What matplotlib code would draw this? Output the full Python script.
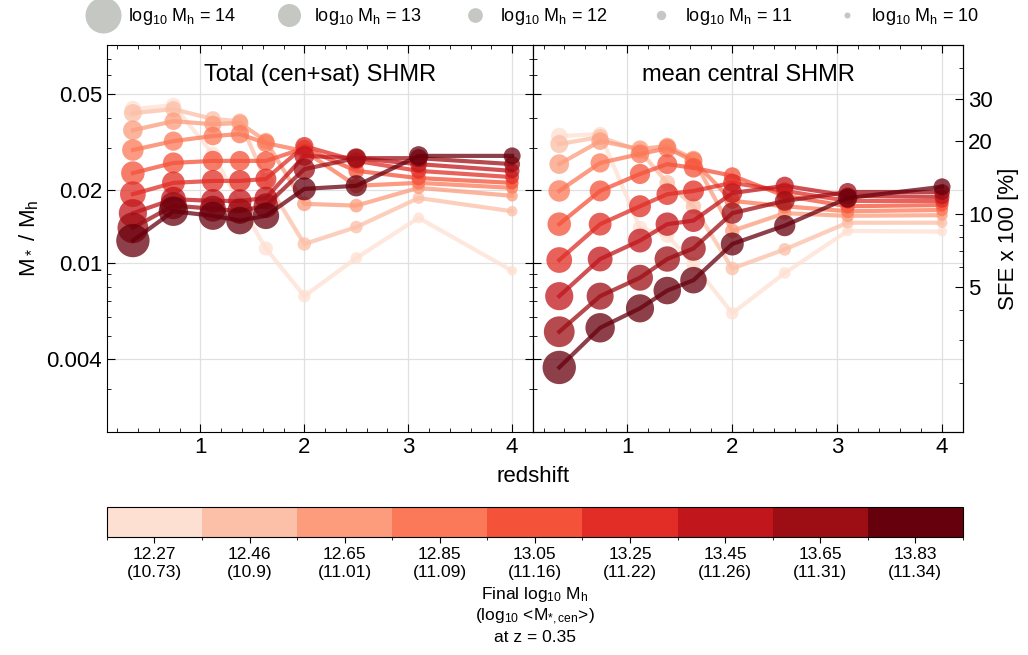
import numpy as np
import matplotlib
matplotlib.use('Agg')
import matplotlib.pyplot as plt
import matplotlib as mpl
from matplotlib.lines import Line2D
from matplotlib.colors import ListedColormap, BoundaryNorm
from matplotlib.ticker import FixedLocator, LogLocator, NullFormatter, FormatStrFormatter, MultipleLocator

plt.rcParams['font.family'] = ['Liberation Sans', 'DejaVu Sans']
plt.rcParams['mathtext.fontset'] = 'custom'
plt.rcParams['mathtext.rm'] = 'Liberation Sans'
plt.rcParams['mathtext.it'] = 'Liberation Sans:italic'
plt.rcParams['mathtext.bf'] = 'Liberation Sans:bold'

# ── data ──
redshift = [0.35, 0.74, 1.12, 1.38, 1.63, 2.0, 2.5, 3.1, 4.0]

final_logmh = ['12.27', '12.46', '12.65', '12.85', '13.05', '13.25', '13.45', '13.65', '13.83']
final_logms = ['10.73', '10.9', '11.01', '11.09', '11.16', '11.22', '11.26', '11.31', '11.34']

# total (cen+sat) M*/Mh, one row per final-mass bin (light -> dark)
shmr_total = np.array([
    [0.0434, 0.0451, 0.0283, 0.0176, 0.0115, 0.0073, 0.0105, 0.0154, 0.0093],
    [0.0418, 0.0434, 0.0395, 0.0387, 0.0219, 0.0120, 0.0141, 0.0186, 0.0164],
    [0.0355, 0.0387, 0.0376, 0.0380, 0.0320, 0.0176, 0.0173, 0.0205, 0.0190],
    [0.0294, 0.0320, 0.0336, 0.0342, 0.0314, 0.0291, 0.0209, 0.0215, 0.0205],
    [0.0236, 0.0260, 0.0265, 0.0265, 0.0265, 0.0299, 0.0241, 0.0225, 0.0215],
    [0.0193, 0.0215, 0.0219, 0.0219, 0.0223, 0.0305, 0.0265, 0.0241, 0.0227],
    [0.0161, 0.0184, 0.0181, 0.0181, 0.0186, 0.0278, 0.0272, 0.0257, 0.0241],
    [0.0140, 0.0173, 0.0168, 0.0164, 0.0173, 0.0245, 0.0272, 0.0272, 0.0257],
    [0.0124, 0.0164, 0.0157, 0.0150, 0.0157, 0.0203, 0.0209, 0.0278, 0.0278],
])

# mean central M*/Mh
shmr_cen = np.array([
    [0.0336, 0.0342, 0.0140, 0.0130, 0.0099, 0.0062, 0.0091, 0.0136, 0.0135],
    [0.0311, 0.0333, 0.0291, 0.0215, 0.0172, 0.0095, 0.0114, 0.0147, 0.0147],
    [0.0257, 0.0320, 0.0297, 0.0305, 0.0270, 0.0136, 0.0161, 0.0157, 0.0158],
    [0.0199, 0.0260, 0.0283, 0.0299, 0.0265, 0.0181, 0.0172, 0.0164, 0.0166],
    [0.0145, 0.0199, 0.0234, 0.0257, 0.0248, 0.0230, 0.0190, 0.0172, 0.0174],
    [0.0103, 0.0145, 0.0172, 0.0193, 0.0199, 0.0215, 0.0199, 0.0181, 0.0181],
    [0.0073, 0.0104, 0.0124, 0.0145, 0.0150, 0.0195, 0.0209, 0.0190, 0.0188],
    [0.0052, 0.0073, 0.0087, 0.0104, 0.0115, 0.0161, 0.0181, 0.0197, 0.0197],
    [0.0037, 0.0054, 0.0065, 0.0077, 0.0085, 0.0120, 0.0143, 0.0186, 0.0207],
])

# log10 Mh of each progenitor at each redshift (sets marker size)
logmh = np.array([
    [12.27, 12.03, 11.97, 11.96, 11.92, 11.64, 11.50, 11.34, 11.12],
    [12.46, 12.22, 12.16, 12.14, 12.10, 11.81, 11.67, 11.50, 11.27],
    [12.65, 12.41, 12.34, 12.32, 12.27, 11.98, 11.83, 11.66, 11.42],
    [12.85, 12.60, 12.53, 12.50, 12.45, 12.15, 12.00, 11.82, 11.57],
    [13.05, 12.79, 12.71, 12.68, 12.62, 12.32, 12.16, 11.98, 11.72],
    [13.25, 12.98, 12.90, 12.86, 12.80, 12.49, 12.33, 12.14, 11.87],
    [13.45, 13.17, 13.08, 13.04, 12.97, 12.66, 12.49, 12.30, 12.02],
    [13.65, 13.36, 13.27, 13.22, 13.15, 12.83, 12.66, 12.46, 12.17],
    [13.83, 13.55, 13.45, 13.40, 13.32, 13.00, 12.82, 12.62, 12.32],
])

legend_logmh = [14, 13, 12, 11, 10]
F_BARYON = 0.16
YLIM = (0.002, 0.08)


def marker_diam(logm):
    # marker diameter in points
    return 6 * 1.565 ** (np.asarray(logm) - 10) * 0.72


colors = plt.cm.Reds(np.linspace(0.125, 1.0, 9))

fig = plt.figure(figsize=(10.28, 6.55), dpi=100)
ax1 = fig.add_axes([0.104, 0.3405, 0.4144, 0.5908])
ax2 = fig.add_axes([0.5185, 0.3405, 0.4183, 0.5908])
cax = fig.add_axes([0.104, 0.1802, 0.8327, 0.0458])

for ax, data, title in [(ax1, shmr_total, 'Total (cen+sat) SHMR'),
                        (ax2, shmr_cen, 'mean central SHMR')]:
    for i in range(len(data)):
        ax.plot(redshift, data[i], '-', color=colors[i], lw=3, alpha=0.75, zorder=2 + i)
        ax.scatter(redshift, data[i], s=marker_diam(logmh[i]) ** 2, color=colors[i],
                   alpha=0.75, edgecolors='none', zorder=2 + i)
    ax.set_yscale('log')
    ax.set_ylim(*YLIM)
    ax.set_xlim(0.1, 4.2)
    ax.yaxis.set_major_locator(FixedLocator([0.004, 0.01, 0.02, 0.05]))
    ax.yaxis.set_major_formatter(FormatStrFormatter('%g'))
    ax.yaxis.set_minor_locator(LogLocator(subs=np.arange(2, 10)))
    ax.yaxis.set_minor_formatter(NullFormatter())
    ax.xaxis.set_major_locator(FixedLocator([1, 2, 3, 4]))
    ax.xaxis.set_minor_locator(MultipleLocator(0.2))
    ax.tick_params(which='both', direction='in', top=True, right=True, labelsize=16)
    ax.tick_params(which='major', length=6)
    ax.tick_params(which='minor', length=3)
    ax.grid(True, which='major', color='0.88', lw=0.9)
    ax.set_axisbelow(True)
    ax.text(0.5, 0.922, title, transform=ax.transAxes, ha='center', va='center', fontsize=17)

ax1.set_ylabel(r'M$_*$ / M$_\mathrm{h}$', fontsize=16)
ax2.tick_params(labelleft=False, right=False)

# SFE axis on the right
twin = ax2.twinx()
twin.set_yscale('log')
twin.set_ylim(YLIM[0] / F_BARYON * 100, YLIM[1] / F_BARYON * 100)
twin.yaxis.set_major_locator(FixedLocator([5, 10, 20, 30]))
twin.yaxis.set_major_formatter(FormatStrFormatter('%g'))
twin.yaxis.set_minor_locator(LogLocator(subs=np.arange(2, 10)))
twin.yaxis.set_minor_formatter(NullFormatter())
twin.tick_params(which='both', direction='in', labelsize=16)
twin.tick_params(which='major', length=6)
twin.tick_params(which='minor', length=3)
twin.set_ylabel('SFE x 100 [%]', fontsize=16)

fig.text(0.5185, 0.272, 'redshift', ha='center', va='center', fontsize=16)

# colorbar of final halo mass
cmap = ListedColormap(colors)
norm = BoundaryNorm(np.arange(10), 9)
cb = mpl.colorbar.ColorbarBase(cax, cmap=cmap, norm=norm, orientation='horizontal',
                               ticks=np.arange(9) + 0.5)
cb.set_ticklabels([f'{a}\n({b})' for a, b in zip(final_logmh, final_logms)])
cb.ax.tick_params(labelsize=12.5, length=4)
cb.set_label('Final log$_{10}$ M$_\\mathrm{h}$\n(log$_{10}$ <M$_{*,\\mathrm{cen}}$>)\nat z = 0.35',
             fontsize=12.5, linespacing=1.2)

# size legend
handles = [Line2D([], [], ls='none', marker='o', ms=marker_diam(m), color='#c5c7c3',
                  markeredgecolor='none') for m in legend_logmh]
labels = [f'log$_{{10}}$ M$_\\mathrm{{h}}$ = {m}' for m in legend_logmh]
fig.legend(handles, labels, loc='center', bbox_to_anchor=(0.52, 0.975), ncol=5,
           frameon=False, fontsize=13, handlelength=1.5, handletextpad=0.6,
           columnspacing=2.2)

fig.savefig('out.png', dpi=100)
